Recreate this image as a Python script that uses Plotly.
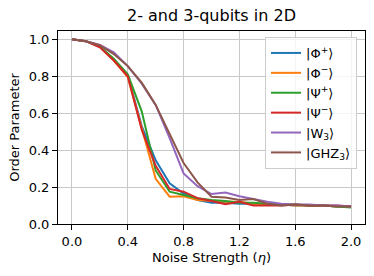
import plotly.graph_objects as go

eta = [round(0.1 * i, 1) for i in range(21)]

phi_plus = [1.0, 0.99, 0.96, 0.89, 0.805, 0.53, 0.345, 0.22, 0.165, 0.13, 0.115,
            0.115, 0.11, 0.11, 0.105, 0.105, 0.10, 0.10, 0.10, 0.095, 0.095]
phi_minus = [1.0, 0.99, 0.96, 0.885, 0.795, 0.515, 0.245, 0.148, 0.15, 0.13, 0.125,
             0.12, 0.12, 0.11, 0.105, 0.105, 0.10, 0.10, 0.10, 0.095, 0.095]
psi_plus = [1.0, 0.99, 0.96, 0.895, 0.81, 0.61, 0.29, 0.175, 0.157, 0.14, 0.13,
            0.125, 0.115, 0.115, 0.11, 0.105, 0.105, 0.10, 0.10, 0.095, 0.09]
psi_minus = [1.0, 0.99, 0.957, 0.885, 0.80, 0.51, 0.315, 0.19, 0.175, 0.14, 0.125,
             0.107, 0.12, 0.10, 0.10, 0.10, 0.105, 0.10, 0.10, 0.10, 0.095]
w3 = [1.0, 0.99, 0.97, 0.93, 0.855, 0.76, 0.645, 0.465, 0.274, 0.205, 0.162,
      0.17, 0.15, 0.135, 0.12, 0.11, 0.105, 0.105, 0.10, 0.10, 0.095]
ghz3 = [1.0, 0.99, 0.968, 0.92, 0.855, 0.765, 0.645, 0.49, 0.33, 0.225, 0.148,
        0.144, 0.13, 0.135, 0.11, 0.10, 0.105, 0.10, 0.10, 0.095, 0.095]

series = [
    ("|Φ<sup>+</sup>⟩", phi_plus, "#1f77b4"),
    ("|Φ<sup>−</sup>⟩", phi_minus, "#ff7f0e"),
    ("|Ψ<sup>+</sup>⟩", psi_plus, "#2ca02c"),
    ("|Ψ<sup>−</sup>⟩", psi_minus, "#d62728"),
    ("|W<sub>3</sub>⟩", w3, "#9467bd"),
    ("|GHZ<sub>3</sub>⟩", ghz3, "#8c564b"),
]

x_ticks = [0.0, 0.4, 0.8, 1.2, 1.6, 2.0]
y_ticks = [0.0, 0.2, 0.4, 0.6, 0.8, 1.0]

fig = go.Figure()
for name, vals, color in series:
    fig.add_trace(go.Scatter(x=eta, y=vals, mode="lines", name=name,
                             line=dict(color=color, width=2)))

font = "DejaVu Sans"
fig.update_layout(
    width=374, height=276,
    margin=dict(l=58, r=9, t=31, b=52, autoexpand=False),
    paper_bgcolor="white", plot_bgcolor="white",
    font=dict(family=font, size=13, color="black"),
    title=dict(text="2- and 3-qubits in 2D", x=(211.5 / 374), xanchor="center",
               y=1 - 15 / 276, yanchor="middle", font=dict(size=16)),
    legend=dict(x=0.974, xanchor="right", y=0.969, yanchor="top",
                bgcolor="rgba(255,255,255,0.8)", bordercolor="#cccccc",
                borderwidth=1, font=dict(size=13), tracegroupgap=0),
    showlegend=True,
)
fig.update_xaxes(range=[-0.1, 2.1], tickvals=x_ticks, ticktext=[f"{v:.1f}" for v in x_ticks],
                 showgrid=True, gridcolor="#c8c8c8", gridwidth=1.1, automargin=False,
                 showline=True, linecolor="black", linewidth=1, mirror=True,
                 ticks="outside", ticklen=5, tickcolor="black", zeroline=False,
                 tickfont=dict(size=13),
                 title=dict(text="Noise Strength (<i>η</i>)", standoff=5, font=dict(size=13)))
fig.update_yaxes(range=[0, 1.045], tickvals=y_ticks, ticktext=[f"{v:.1f}" for v in y_ticks],
                 showgrid=True, gridcolor="#c8c8c8", gridwidth=1.1, automargin=False,
                 showline=True, linecolor="black", linewidth=1, mirror=True,
                 ticks="outside", ticklen=5, tickcolor="black", zeroline=False,
                 tickfont=dict(size=13),
                 title=dict(text="Order Parameter", standoff=6, font=dict(size=13)))

fig.write_html("out.html", config={"displayModeBar": False},
               post_script="document.body.style.margin='0';document.body.style.overflow='hidden';")
